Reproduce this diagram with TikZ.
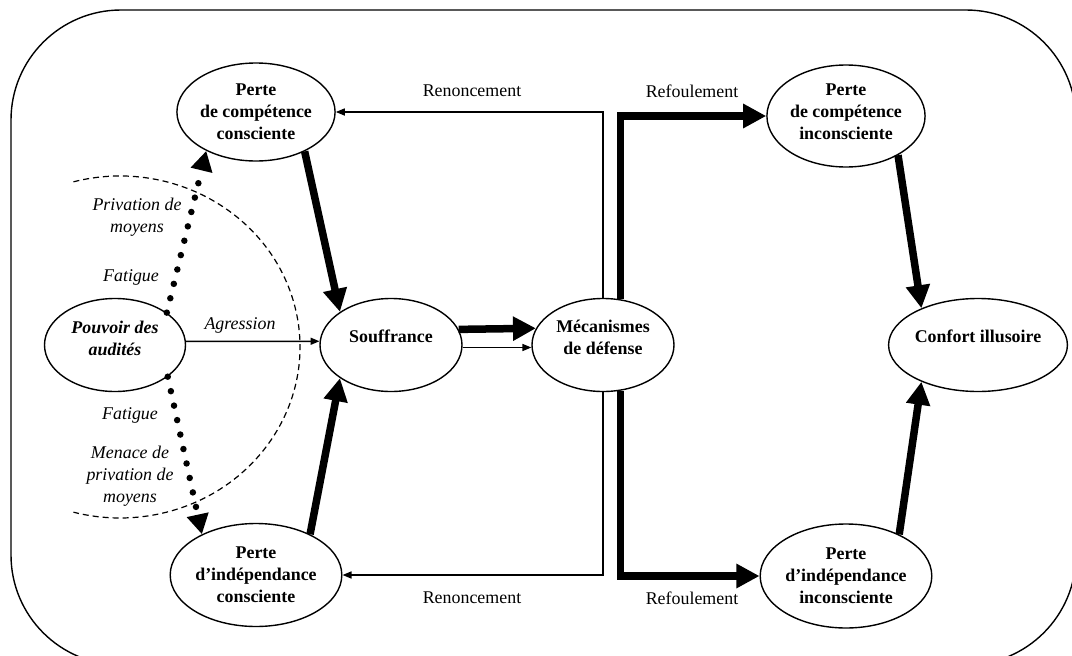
\documentclass[tikz,border=0pt]{standalone}
\usepackage{fontspec}
\setmainfont{Liberation Serif}
\usetikzlibrary{shapes.geometric,arrows.meta}
\newcommand\rtxt[2]{\raisebox{#1}[\height][\depth]{\begin{tabular}{@{}c@{}}#2\end{tabular}}}
\begin{document}
\begin{tikzpicture}[x=1pt,y=-1pt,
  ell/.style={ellipse,draw,line width=1.4pt,minimum width=142pt,inner sep=0pt,align=center,
    font=\bfseries\fontsize{17.9}{22}\selectfont},
  tallell/.style={ell,minimum height=102pt},
  midell/.style={ell,minimum height=93pt},
  lbl/.style={font=\fontsize{17.9}{22}\selectfont,align=center,inner sep=0pt},
  ilbl/.style={lbl,font=\itshape\fontsize{17.9}{22}\selectfont},
  thinarrow/.style={line width=1.5pt,-{Triangle[length=9pt,width=7pt]}},
  thickarrow/.style={line width=7.5pt,line join=miter,-{Triangle[length=23pt,width=23pt]}},
  dotarrow/.style={line width=6.5pt,line cap=round,dash pattern=on 0pt off 14.8pt,
    -{Triangle[length=20pt,width=21pt]}},
  arcline/.style={line width=1.2pt,dash pattern=on 6pt off 4pt},
  frame/.style={line width=1.4pt,rounded corners=110pt}
]
\useasboundingbox (0,0) rectangle (1072,656);
\draw[frame] (11,10) rectangle (1076,665);

% nodes
\node[tallell,minimum height=98pt] (pcc) at (256,112) {Perte\\de compétence\\consciente};
\node[tallell,minimum height=103pt] (pic) at (256,575) {Perte\\d’indépendance\\consciente};
\node[midell,minimum width=141pt,font=\bfseries\itshape\fontsize{17.9}{22}\selectfont] (pouv) at (115,345)
  {\rtxt{5pt}{Pouvoir des\\audités}};
\node[midell] (souf) at (391,345) {\rtxt{7pt}{Souffrance}};
\node[midell] (mec) at (603,345) {\rtxt{6pt}{Mécanismes\\de défense}};
\node[tallell,minimum width=143pt] (pci) at (846,116) {\rtxt{3pt}{Perte\\de compétence\\inconsciente}};
\node[tallell,minimum width=143pt,minimum height=104pt] (pii) at (846,576) {Perte\\d’indépendance\\inconsciente};
\node[midell,minimum width=143pt] (conf) at (978,345) {\rtxt{7pt}{Confort illusoire}};

% dashed arc
\coordinate (arcc) at (120,347);
\draw[arcline] (arcc) ++(-105:180 and 171) arc[start angle=-105,end angle=105,x radius=180,y radius=171];

% connectors
\draw[thickarrow] (pcc.-39) -- (souf.147);
\draw[thickarrow] (pic.37) -- (souf.-147);
\draw[thickarrow] (pci.-37) -- (conf.147);
\draw[thickarrow] (pii.38) -- (conf.-147);
\draw[thickarrow] (souf.13.5) -- (mec.166.5);
\draw[thinarrow] (souf.-2) -- (mec.182);
\draw[thinarrow] (pouv.3) -- (souf.177);
\draw[thinarrow] (mec.north) |- (pcc.east);
\draw[thinarrow] (mec.south) |- (pic.east);
\draw[thickarrow] (mec.69) |- (pci.west);
\draw[thickarrow] (mec.-69) |- (pii.west);
\draw[dotarrow] (pouv.32) -- (pcc.-142);
\draw[dotarrow] (pouv.-31) -- (pic.143);

% labels
\node[lbl] (ren1) at (472,91) {Renoncement};
\node[lbl] (ren2) at (472,598) {Renoncement};
\node[lbl] (ref1) at (692,91) {Refoulement};
\node[lbl] (ref2) at (692,598) {Refoulement};
\node[ilbl] (agr) at (240,325) {Agression};
\node[ilbl] (priv) at (137,217) {Privation de\\moyens};
\node[ilbl] (fat1) at (131,277) {Fatigue};
\node[ilbl] (fat2) at (130,415) {Fatigue};
\node[ilbl] (men) at (130,476) {Menace de\\privation de\\moyens};
\end{tikzpicture}
\end{document}
